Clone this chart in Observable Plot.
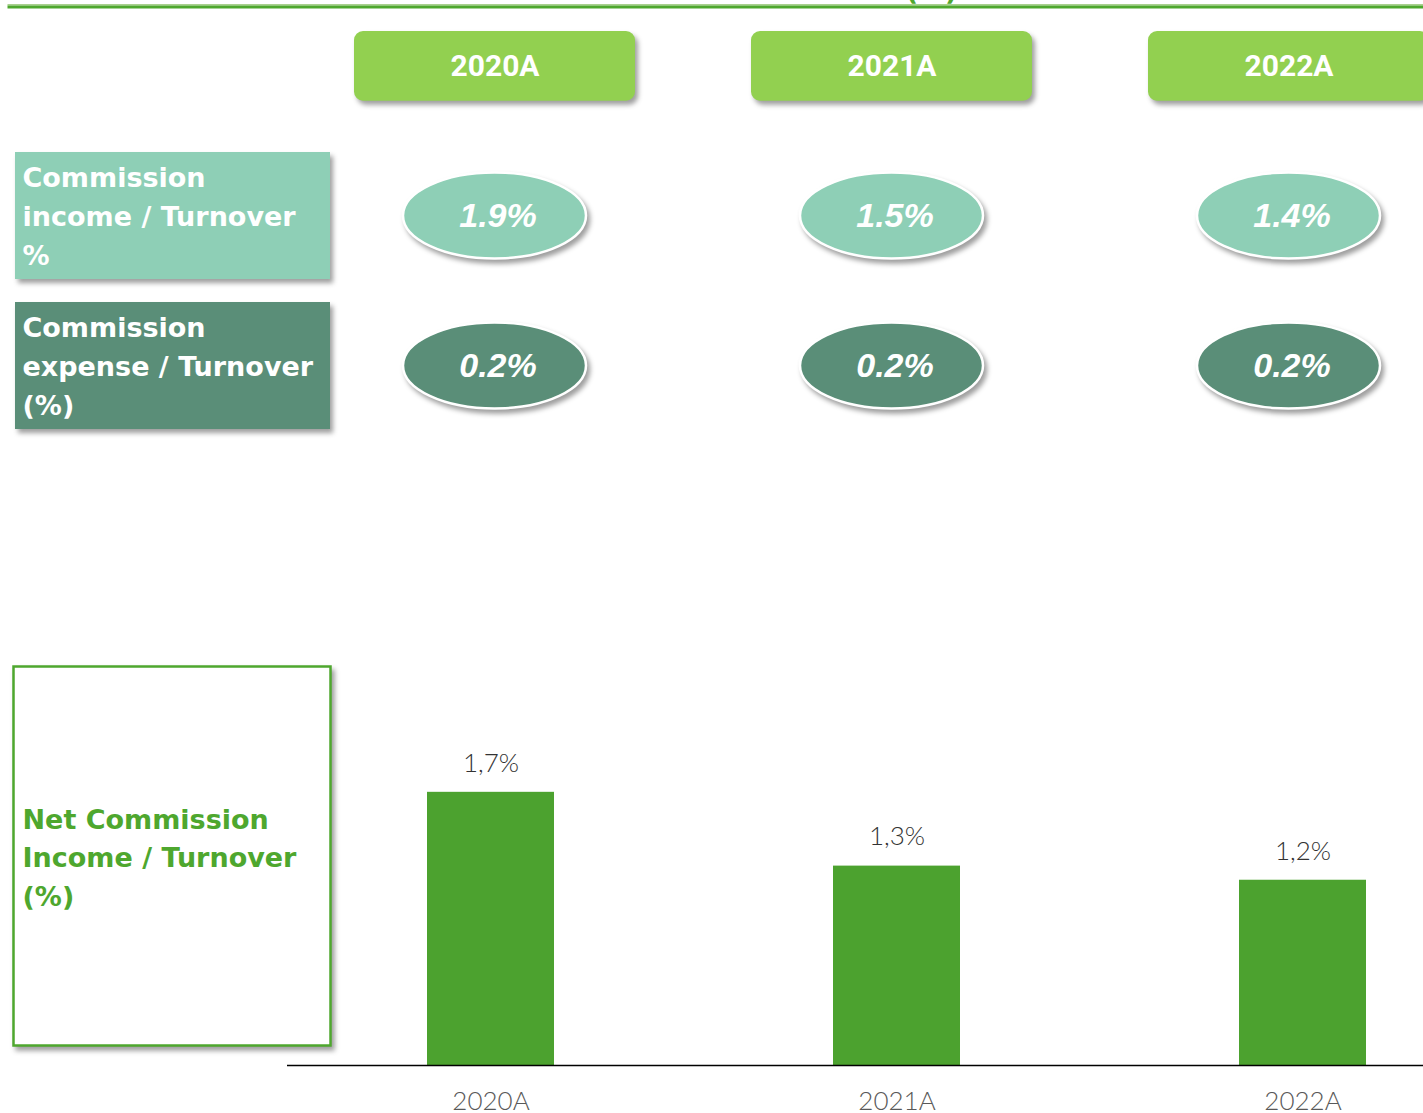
<!DOCTYPE html>
<html><head><meta charset="utf-8">
<script src="https://cdn.jsdelivr.net/npm/d3@7"></script>
<script src="https://cdn.jsdelivr.net/npm/@observablehq/plot@0.6"></script>
<style>
html,body{margin:0;padding:0;background:#fff;overflow:hidden}
#wrap{position:relative;width:1423px;height:1113px}
#wrap svg{position:absolute;left:0;overflow:visible}
</style></head><body><div id="wrap"></div>
<script>
// ---- data ----
const years = ["2020A", "2021A", "2022A"];
const rowKeys = ["header", "income", "expense"];
const rowLabels = ["", "Commission\nincome / Turnover\n%", "Commission\nexpense / Turnover\n(%)"];
const incomeRatio = [1.9, 1.5, 1.4];
const expenseRatio = [0.2, 0.2, 0.2];
const netRatio = [1.74, 1.27, 1.18];
const netLabel = "Net Commission\nIncome / Turnover\n(%)";
const titleTail = "(%)";

// ---- tables ----
const labelRows = rowKeys.slice(1).map((r) => ({row: r, label: rowLabels[rowKeys.indexOf(r)]}));
const ratios = years.flatMap((y, i) => [
  {year: y, row: "income", value: incomeRatio[i]},
  {year: y, row: "expense", value: expenseRatio[i]}
]);
const netData = years.map((y, i) => ({year: y, value: netRatio[i]}));

const GREEN = "#4EA72E";
const rowColor = {domain: ["income", "expense"], range: ["#8ECFB6", "#5A8E78"]};
const SHADOW = "drop-shadow(3px 4px 2.5px rgba(0,0,0,0.38))";

function shade(svg, selector) {
  svg.querySelectorAll(selector).forEach((g) => {
    g.style.filter = SHADOW;
  });
}

// ---- top panel ----
const topPlot = Plot.plot({
  width: 1423, height: 440, margin: 0,
  style: {fontFamily: "DejaVu Sans", background: "transparent", overflow: "visible"},
  x: {type: "band", domain: years, range: [354, 1429], paddingInner: 0.2922, paddingOuter: 0, axis: null},
  y: {type: "band", domain: rowKeys, range: [-10, 441], padding: 0, axis: null},
  color: rowColor,
  marks: [
    Plot.frame({fill: "#A9D08E", stroke: null, insetTop: 3.5, insetBottom: 435, insetLeft: 7}),
    Plot.frame({fill: GREEN, stroke: null, insetTop: 5, insetBottom: 432, insetLeft: 7}),
    Plot.text([titleTail], {text: (d) => d, frameAnchor: "top-left", dx: 931, dy: -19.5, lineAnchor: "top",
      textAnchor: "middle", fill: GREEN, fontSize: 27, fontWeight: 700}),
    Plot.cell(years, {x: (d) => d, y: () => "header", fill: "#92D050", rx: 9, ry: 9,
      insetTop: 40, insetBottom: 40.3}),
    Plot.text(years, {x: (d) => d, y: () => "header", text: (d) => d, fill: "white",
      fontFamily: "Roboto", fontWeight: 700, fontSize: 30}),
    Plot.cell(labelRows, {y: "row", fill: "row", insetLeft: 15, insetRight: 1093, insetTop: 11, insetBottom: 12}),
    Plot.text(labelRows, {y: "row", text: "label", frameAnchor: "left", dx: 22, dy: -3, textAnchor: "start",
      lineAnchor: "middle", lineHeight: 1.44, fill: "white", fontWeight: 700, fontSize: 27}),
    Plot.cell(ratios, {x: "year", y: "row", fill: "row", stroke: "white", strokeWidth: 2.5,
      insetLeft: 49, insetRight: 49, insetTop: 31.5, insetBottom: 32.5, rx: 92, ry: 44}),
    Plot.text(ratios, {x: "year", y: "row", text: (d) => d.value.toFixed(1) + "%", dx: 3, fill: "white",
      fontFamily: "Liberation Sans", fontWeight: 700, fontStyle: "italic", fontSize: 34})
  ]
});
shade(topPlot, 'g[aria-label="cell"]');
topPlot.style.top = "0px";

// ---- bottom panel ----
const fmt = (v) => d3.format(".1f")(v).replace(".", ",") + "%";
const bottomPlot = Plot.plot({
  width: 1423, height: 673, margin: 0, marginBottom: 48,
  style: {fontFamily: "DejaVu Sans", background: "transparent", overflow: "visible"},
  x: {type: "band", domain: years, range: [426, 1366], paddingInner: 0.6876, paddingOuter: 0, label: null},
  y: {domain: [0, 2], range: [625, 311], axis: null},
  marks: [
    Plot.frame({fill: "white", stroke: GREEN, strokeWidth: 2.5, insetLeft: 13, insetRight: 1093,
      insetTop: 226, insetBottom: 20}),
    Plot.text([netLabel], {text: (d) => d, frameAnchor: "left", dx: 22, dy: 102, textAnchor: "start",
      lineAnchor: "middle", lineHeight: 1.44, fill: GREEN, fontWeight: 700, fontSize: 27}),
    Plot.barY(netData, {x: "year", y: "value", fill: "#4CA22F"}),
    Plot.text(netData, {x: "year", y: "value", text: (d) => fmt(d.value), dy: -29, fill: "#333333",
      fontFamily: "Lato", fontWeight: 300, fontSize: 26}),
    Plot.ruleY([0], {insetLeft: 287, stroke: "#000", strokeWidth: 1.3}),
    Plot.axisX({tickSize: 0, tickPadding: 26, fontSize: 26, color: "#595959", fontFamily: "Lato",
      fontWeight: 300, label: null})
  ]
});
shade(bottomPlot, '[aria-label="frame"]');
bottomPlot.style.top = "440px";

const wrap = document.getElementById("wrap");
wrap.appendChild(topPlot);
wrap.appendChild(bottomPlot);
</script>
</body></html>
